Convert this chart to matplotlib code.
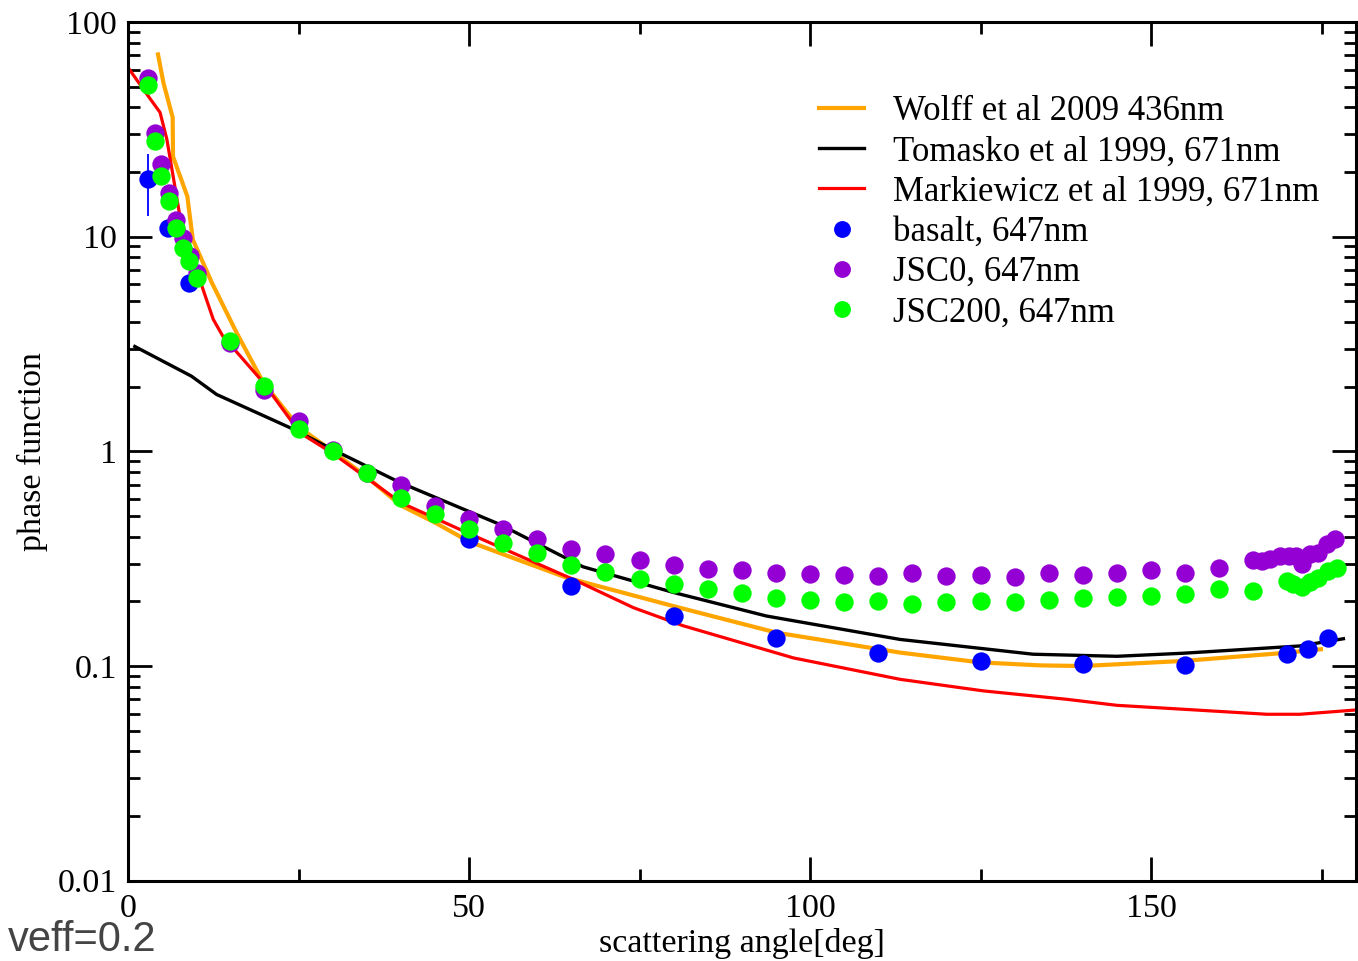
import matplotlib
matplotlib.use("Agg")
import matplotlib.pyplot as plt
from matplotlib.ticker import FixedLocator, FixedFormatter, LogLocator, NullFormatter, MultipleLocator

# ---------------- data ----------------
wolff_x = [4.4, 5.2, 6.55, 6.6, 8.7, 9.5, 12.3, 15.9, 19.8, 25, 30, 35, 40, 45, 50, 57, 64.3, 80, 95.1, 113.2, 124.9, 133.7, 140, 154.7, 169.4, 174.9]
wolff_y = [70.6, 52, 35.9, 23.6, 15.4, 9.7, 6.1, 3.58, 2.1, 1.3, 1.0, 0.76, 0.56, 0.466, 0.38, 0.314, 0.258, 0.19, 0.143, 0.1155, 0.104, 0.1007, 0.1, 0.1056, 0.115, 0.1197]

tomasko_x = [1.0, 9.3, 13.0, 24.2, 30, 39.9, 54.5, 66.7, 80, 93.6, 113.2, 132.7, 145, 154.7, 171.8, 178.2]
tomasko_y = [3.08, 2.24, 1.84, 1.27, 1.02, 0.715, 0.457, 0.29, 0.22, 0.171, 0.133, 0.1135, 0.111, 0.1147, 0.124, 0.134]

mark_x = [0, 3.0, 4.7, 5.7, 7.6, 9.3, 11.0, 12.5, 13.9, 19.8, 25.2, 30, 40, 49.7, 65.8, 74.1, 81.4, 97.6, 113.2, 125.4, 137.6, 145, 154.7, 167, 171.8, 180]
mark_y = [61.4, 45, 37.9, 28.4, 12.5, 8.4, 5.68, 4.12, 3.44, 2.1, 1.22, 0.98, 0.577, 0.418, 0.249, 0.187, 0.154, 0.109, 0.0867, 0.0766, 0.070, 0.0656, 0.0629, 0.0596, 0.0596, 0.0624]

basalt_x = [2.9, 5.9, 9.0, 50, 65, 80, 95, 110, 125, 140, 155, 170, 173, 176]
basalt_y = [18.5, 11.0, 6.1, 0.389, 0.236, 0.171, 0.1356, 0.1146, 0.1056, 0.102, 0.1008, 0.114, 0.1197, 0.1356]
basalt_err_x = [2.9]
basalt_err_lo = [12.5]
basalt_err_hi = [24.4]

jsc0_x = [3.0, 4.0, 4.9, 6.0, 7.0, 8.0, 9.1, 10.1, 15, 20, 25, 30, 35, 40, 45, 50, 55, 60, 65, 70, 75, 80, 85, 90, 95, 100, 105, 110, 115, 120, 125, 130, 135, 140, 145, 150, 155, 160, 165, 166.2, 167.4, 168.9, 170.2, 171.3, 172.1, 173.3, 174.5, 175.8, 177]
jsc0_y = [55, 30.5, 21.7, 16.0, 12.0, 9.9, 8.1, 6.8, 3.21, 1.94, 1.38, 1.02, 0.79, 0.70, 0.556, 0.482, 0.433, 0.392, 0.352, 0.334, 0.311, 0.294, 0.282, 0.28, 0.27, 0.268, 0.2655, 0.263, 0.27, 0.263, 0.265, 0.26, 0.272, 0.266, 0.272, 0.28, 0.27, 0.287, 0.312, 0.31, 0.314, 0.326, 0.326, 0.325, 0.298, 0.331, 0.337, 0.369, 0.392]

jsc200_x = [3.0, 4.0, 4.9, 6.0, 7.0, 8.0, 9.0, 10.1, 15, 20, 25, 30, 35, 40, 45, 50, 55, 60, 65, 70, 75, 80, 85, 90, 95, 100, 105, 110, 115, 120, 125, 130, 135, 140, 145, 150, 155, 160, 165, 169.9, 170.8, 172.1, 173.3, 174.5, 176, 177.2]
jsc200_y = [51, 27.9, 19.1, 14.6, 11.0, 8.9, 7.7, 6.44, 3.26, 2.01, 1.27, 1.0, 0.796, 0.608, 0.509, 0.433, 0.376, 0.335, 0.296, 0.274, 0.253, 0.24, 0.228, 0.218, 0.208, 0.202, 0.199, 0.2, 0.194, 0.199, 0.2, 0.199, 0.202, 0.208, 0.21, 0.213, 0.216, 0.228, 0.224, 0.249, 0.24, 0.234, 0.245, 0.258, 0.277, 0.287]

labels = ["Wolff et al 2009 436nm", "Tomasko et al 1999, 671nm", "Markiewicz et al 1999, 671nm",
          "basalt, 647nm", "JSC0, 647nm", "JSC200, 647nm"]
y_ticks = [0.01, 0.1, 1, 10, 100]
y_tick_labels = ["0.01", "0.1", "1", "10", "100"]
x_ticks = [0, 50, 100, 150]

# ---------------- figure ----------------
plt.rcParams['font.family'] = ['Liberation Serif', 'DejaVu Serif']

W, H = 1358, 961
fig = plt.figure(figsize=(W / 100, H / 100), dpi=100)
ax = fig.add_axes([128 / W, (H - 880.7) / H, (1355.7 - 128) / W, (880.7 - 22) / H])

fs = 24.5
h1, = ax.plot(wolff_x, wolff_y, color='#FFA500', lw=3.0, zorder=2)
h2, = ax.plot(tomasko_x, tomasko_y, color='black', lw=2.4, zorder=2)
h3, = ax.plot(mark_x, mark_y, color='#FF0000', lw=2.3, zorder=2)

ms = 13.2
ax.vlines(basalt_err_x, basalt_err_lo, basalt_err_hi, color='#0000FF', lw=1.3, zorder=3)
h4, = ax.plot(basalt_x, basalt_y, 'o', color='#0000FF', ms=ms, mew=0, zorder=4)
h5, = ax.plot(jsc0_x, jsc0_y, 'o', color='#9400D3', ms=ms, mew=0, zorder=5)
h6, = ax.plot(jsc200_x, jsc200_y, 'o', color='#00FF00', ms=ms, mew=0, zorder=6)

ax.set_yscale('log')
ax.set_xlim(0, 180)
ax.set_ylim(0.01, 100)

ax.yaxis.set_major_locator(FixedLocator(y_ticks))
ax.yaxis.set_major_formatter(FixedFormatter(y_tick_labels))
ax.yaxis.set_minor_locator(LogLocator(base=10, subs=range(2, 10), numticks=20))
ax.yaxis.set_minor_formatter(NullFormatter())
ax.xaxis.set_major_locator(FixedLocator(x_ticks))
ax.xaxis.set_minor_locator(MultipleLocator(25))

ax.tick_params(which='both', direction='in', top=True, right=True, width=2.0, labelsize=fs)
ax.tick_params(which='major', length=17)
ax.tick_params(which='minor', length=8.5)
ax.tick_params(axis='y', which='major', pad=8)
ax.tick_params(axis='x', which='major', pad=9)
for s in ax.spines.values():
    s.set_linewidth(2.2)

ax.set_xlabel("scattering angle[deg]", fontsize=fs, labelpad=3)
ax.set_ylabel("phase function", fontsize=fs)
ax.yaxis.set_label_coords((48 - 128) / (1355.7 - 128), 0.5)

leg = ax.legend([h1, h2, h3, h4, h5, h6], labels, loc='upper left',
                bbox_to_anchor=(819 / W, 1 - 95 / H), bbox_transform=fig.transFigure,
                frameon=False, fontsize=25, handlelength=1.3, handletextpad=0.84,
                labelspacing=0.21, borderpad=0, borderaxespad=0, markerscale=0.92)

fig.text(8 / W, 1 - 951 / H, "veff=0.2", fontsize=30, color='#444444',
         family=['Liberation Sans', 'DejaVu Sans'], va='baseline', ha='left')

fig.savefig("out.png", dpi=100)
